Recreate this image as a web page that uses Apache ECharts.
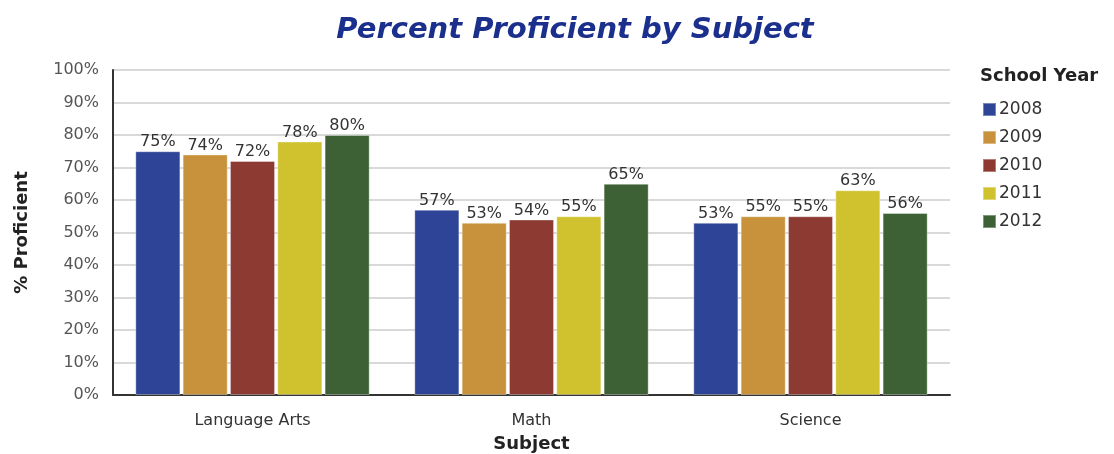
<!DOCTYPE html>
<html><head><meta charset="utf-8">
<script src="https://cdn.jsdelivr.net/npm/echarts@6/dist/echarts.min.js"></script>
<style>html,body{margin:0;padding:0;background:#fff}#c{width:1114px;height:454px}</style>
</head><body><div id="c"></div>
<script>
const categories = ["Language Arts", "Math", "Science"];
const years = ["2008", "2009", "2010", "2011", "2012"];
const v2008 = [75, 57, 53];
const v2009 = [74, 53, 55];
const v2010 = [72, 54, 55];
const v2011 = [78, 55, 63];
const v2012 = [80, 65, 56];
const colors = ["#2e4496", "#c8923c", "#8c3a32", "#d0c22e", "#3d6134"];
const values = [v2008, v2009, v2010, v2011, v2012];

const FONT = "DejaVu Sans";
const chart = echarts.init(document.getElementById('c'));
chart.setOption({
  animation: false,
  textStyle: { fontFamily: FONT },
  title: [
    { text: "Percent Proficient by Subject", left: 570, top: 11, textAlign: 'center',
      textStyle: { fontFamily: FONT, fontSize: 29, fontWeight: 'bold', fontStyle: 'italic', color: '#1b2f8c' } },
    { text: "School Year", left: 975, top: 62,
      textStyle: { fontFamily: FONT, fontSize: 18, fontWeight: 'bold', color: '#222' } }
  ],
  legend: {
    orient: 'vertical', left: 977, top: 96, itemWidth: 13, itemHeight: 13, itemGap: 11,
    icon: 'rect', data: years,
    textStyle: { fontFamily: FONT, fontSize: 17, color: '#333', padding: [0, 0, 0, -2] }
  },
  grid: { left: 113, right: 164, top: 70, bottom: 59, containLabel: false, outerBoundsMode: 'none' },
  xAxis: {
    type: 'category', data: categories,
    name: 'Subject', nameLocation: 'middle', nameGap: 40,
    nameTextStyle: { fontFamily: FONT, fontSize: 18, fontWeight: 'bold', color: '#222' },
    axisLine: { lineStyle: { color: '#333', width: 2 } },
    axisTick: { show: false },
    axisLabel: { fontFamily: FONT, fontSize: 16, color: '#333', margin: 18 }
  },
  yAxis: {
    type: 'value', min: 0, max: 100, interval: 10,
    name: '% Proficient', nameLocation: 'middle', nameGap: 82, nameRotate: 90,
    nameTextStyle: { fontFamily: FONT, fontSize: 18, fontWeight: 'bold', color: '#222' },
    axisLine: { show: true, lineStyle: { color: '#333', width: 2 } },
    axisTick: { show: false },
    axisLabel: { fontFamily: FONT, fontSize: 16, color: '#555', formatter: '{value}%', margin: 14 },
    splitLine: { lineStyle: { color: '#cccccc', width: 1.5 } }
  },
  series: years.map((y, i) => ({
    name: y, type: 'bar', data: values[i],
    barCategoryGap: '16%', barGap: '5%',
    itemStyle: { color: colors[i], borderColor: 'rgba(255,255,255,0.35)', borderWidth: 1 },
    label: { show: true, position: 'top', distance: 1, formatter: '{c}%',
      fontFamily: FONT, fontSize: 16, color: '#333' }
  })),
  color: colors
});
</script></body></html>
